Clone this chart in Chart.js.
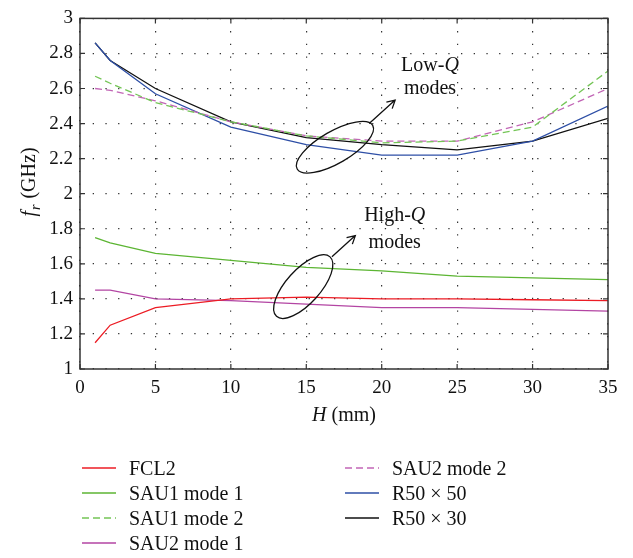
<!DOCTYPE html>
<html>
<head>
<meta charset="utf-8">
<script src="https://cdn.jsdelivr.net/npm/chart.js@4"></script>
<style>
  body { margin: 0; background: #fff; }
  #wrap { position: relative; width: 633px; height: 558px; }
  #legend { position: absolute; left: 0; top: 0; width: 633px; height: 558px; pointer-events: none;
            font-family: "Liberation Serif", "DejaVu Serif", serif; font-size: 20px; color: #111; }
  .item { position: absolute; display: flex; align-items: center; height: 24px; }
  .item svg { margin-right: 13px; }
</style>
</head>
<body>
<div id="wrap">
  <canvas id="chart" width="633" height="558"></canvas>
  <div id="legend"></div>
</div>
<script>
// datos
const H = [1, 2, 5, 10, 15, 20, 25, 30, 35];
const fcl2   = [1.15, 1.25, 1.35, 1.40, 1.41, 1.40, 1.40, 1.395, 1.39];
const sau1m1 = [1.75, 1.72, 1.66, 1.62, 1.58, 1.56, 1.53, 1.52, 1.51];
const sau1m2 = [2.67, 2.63, 2.52, 2.41, 2.33, 2.29, 2.30, 2.38, 2.70];
const sau2m1 = [1.45, 1.45, 1.40, 1.39, 1.37, 1.35, 1.35, 1.34, 1.33];
const sau2m2 = [2.60, 2.59, 2.53, 2.41, 2.33, 2.30, 2.30, 2.41, 2.60];
const r50x50 = [2.86, 2.76, 2.57, 2.38, 2.28, 2.22, 2.22, 2.30, 2.50];
const r50x30 = [2.86, 2.76, 2.60, 2.41, 2.32, 2.28, 2.25, 2.30, 2.43];

const seriesNames = ['FCL2', 'SAU1 mode 1', 'SAU1 mode 2', 'SAU2 mode 1', 'SAU2 mode 2', 'R50 \u00d7 50', 'R50 \u00d7 30'];
const seriesValues = [fcl2, sau1m1, sau1m2, sau2m1, sau2m2, r50x50, r50x30];
const seriesColors = ['#ec1c24', '#5cb533', '#74c556', '#b345a3', '#c266b6', '#2e4fa6', '#111111'];
const seriesDashed = [false, false, true, false, true, false, false];

const xTitle = ['H', ' (mm)'];
const yTitle = ['f', 'r', ' (GHz)'];

const FONT = '"Liberation Serif", "DejaVu Serif", serif';

// anotaciones (coordenadas en unidades de datos)
const ellipses = [
  { x: 16.9, y: 2.265, a: 43.6, b: 16, rot: -30 },
  { x: 14.8, y: 1.47, a: 40, b: 17, rot: -48 }
];
const arrows = [
  { x0: 19.17, y0: 2.40, x1: 20.89, y1: 2.534 },
  { x0: 16.7, y0: 1.64, x1: 18.25, y1: 1.761 }
];
const notes = [
  { x: 23.2, y: 2.729, parts: [['Low-', false], ['Q', true]] },
  { x: 23.2, y: 2.60, parts: [['modes', false]] },
  { x: 20.86, y: 1.874, parts: [['High-', false], ['Q', true]] },
  { x: 20.86, y: 1.723, parts: [['modes', false]] }
];

const datasets = seriesNames.map((name, i) => ({
  label: name,
  data: H.map((h, j) => ({ x: h, y: seriesValues[i][j] })),
  borderColor: seriesColors[i],
  borderWidth: 1.3,
  borderDash: seriesDashed[i] ? [7, 4] : [],
  pointRadius: 0,
  tension: 0,
  fill: false
}));

const framePlugin = {
  id: 'frame',
  afterDraw(chart) {
    const ctx = chart.ctx;
    const a = chart.chartArea;
    const xs = chart.scales.x, ys = chart.scales.y;
    ctx.save();
    ctx.strokeStyle = '#333';
    ctx.lineWidth = 1.5;
    ctx.strokeRect(a.left, a.top, a.right - a.left, a.bottom - a.top);
    ctx.lineWidth = 1.2;
    ctx.beginPath();
    xs.ticks.forEach(t => {
      const px = xs.getPixelForValue(t.value);
      ctx.moveTo(px, a.bottom); ctx.lineTo(px, a.bottom - 5);
      ctx.moveTo(px, a.top); ctx.lineTo(px, a.top + 5);
    });
    ys.ticks.forEach(t => {
      const py = ys.getPixelForValue(t.value);
      ctx.moveTo(a.left, py); ctx.lineTo(a.left + 5, py);
      ctx.moveTo(a.right, py); ctx.lineTo(a.right - 5, py);
    });
    ctx.stroke();

    // anotaciones
    ctx.strokeStyle = '#111';
    ctx.lineWidth = 1.3;
    ellipses.forEach(e => {
      ctx.beginPath();
      ctx.ellipse(xs.getPixelForValue(e.x), ys.getPixelForValue(e.y), e.a, e.b, e.rot * Math.PI / 180, 0, Math.PI * 2);
      ctx.stroke();
    });
    arrows.forEach(r => {
      const x0 = xs.getPixelForValue(r.x0), y0 = ys.getPixelForValue(r.y0);
      const x1 = xs.getPixelForValue(r.x1), y1 = ys.getPixelForValue(r.y1);
      const ang = Math.atan2(y1 - y0, x1 - x0);
      ctx.beginPath();
      ctx.moveTo(x0, y0); ctx.lineTo(x1, y1);
      ctx.moveTo(x1 - 9 * Math.cos(ang - 0.5), y1 - 9 * Math.sin(ang - 0.5));
      ctx.lineTo(x1, y1);
      ctx.lineTo(x1 - 9 * Math.cos(ang + 0.5), y1 - 9 * Math.sin(ang + 0.5));
      ctx.stroke();
    });
    ctx.fillStyle = '#111';
    ctx.textBaseline = 'middle';
    notes.forEach(n => {
      let w = 0;
      n.parts.forEach(p => { ctx.font = (p[1] ? 'italic ' : '') + '20px ' + FONT; w += ctx.measureText(p[0]).width; });
      let px = xs.getPixelForValue(n.x) - w / 2;
      const py = ys.getPixelForValue(n.y);
      ctx.textAlign = 'left';
      n.parts.forEach(p => {
        ctx.font = (p[1] ? 'italic ' : '') + '20px ' + FONT;
        ctx.fillText(p[0], px, py);
        px += ctx.measureText(p[0]).width;
      });
    });

    // titulos de ejes
    ctx.font = 'italic 20px ' + FONT;
    const w1 = ctx.measureText(xTitle[0]).width;
    ctx.font = '20px ' + FONT;
    const w2 = ctx.measureText(xTitle[1]).width;
    let tx = (a.left + a.right) / 2 - (w1 + w2) / 2;
    ctx.font = 'italic 20px ' + FONT;
    ctx.fillText(xTitle[0], tx, 416);
    ctx.font = '20px ' + FONT;
    ctx.fillText(xTitle[1], tx + w1, 416);

    ctx.translate(30, 183);
    ctx.rotate(-Math.PI / 2);
    ctx.font = 'italic 20px ' + FONT;
    const f = ctx.measureText(yTitle[0]).width;
    ctx.font = 'italic 14px ' + FONT;
    const r = ctx.measureText(yTitle[1]).width;
    ctx.font = '20px ' + FONT;
    const g = ctx.measureText(yTitle[2]).width;
    let ty = -(f + r + g) / 2;
    ctx.font = 'italic 20px ' + FONT;
    ctx.fillText(yTitle[0], ty, 0);
    ctx.font = 'italic 14px ' + FONT;
    ctx.fillText(yTitle[1], ty + f + 1, 6);
    ctx.font = '20px ' + FONT;
    ctx.fillText(yTitle[2], ty + f + r + 2, 0);
    ctx.restore();
  }
};

new Chart(document.getElementById('chart').getContext('2d'), {
  type: 'line',
  data: { datasets: datasets },
  options: {
    responsive: false,
    animation: false,
    layout: { padding: { top: 12, right: 25, left: 0, bottom: 0 } },
    plugins: { legend: { display: false }, tooltip: { enabled: false } },
    scales: {
      x: {
        type: 'linear', min: 0, max: 35,
        afterFit: s => { s.height = 189; },
        ticks: { stepSize: 5, padding: 8, color: '#111', font: { family: FONT, size: 19 } },
        grid: { color: '#333', lineWidth: 1.2, drawTicks: false },
        border: { display: false, dash: [1.3, 11.4] }
      },
      y: {
        type: 'linear', min: 1, max: 3,
        afterFit: s => { s.width = 80; },
        ticks: {
          stepSize: 0.2, padding: 7, color: '#111', font: { family: FONT, size: 19 },
          callback: v => String(Number(v.toFixed(1)))
        },
        grid: { color: '#333', lineWidth: 1.2, drawTicks: false },
        border: { display: false, dash: [1.3, 11.4] }
      }
    }
  },
  plugins: [framePlugin]
});

// leyenda en dos columnas
const legend = document.getElementById('legend');
const colX = [82, 345];
const rowY = [468, 493, 518, 543];
seriesNames.forEach((name, i) => {
  const col = i < 4 ? 0 : 1;
  const row = i < 4 ? i : i - 4;
  const div = document.createElement('div');
  div.className = 'item';
  div.style.left = colX[col] + 'px';
  div.style.top = (rowY[row] - 12) + 'px';
  div.innerHTML = '<svg width="34" height="4"><line x1="0" y1="2" x2="34" y2="2" stroke="' + seriesColors[i] +
    '" stroke-width="1.5"' + (seriesDashed[i] ? ' stroke-dasharray="7 4"' : '') + '/></svg><span>' + name + '</span>';
  legend.appendChild(div);
});
</script>
</body>
</html>
